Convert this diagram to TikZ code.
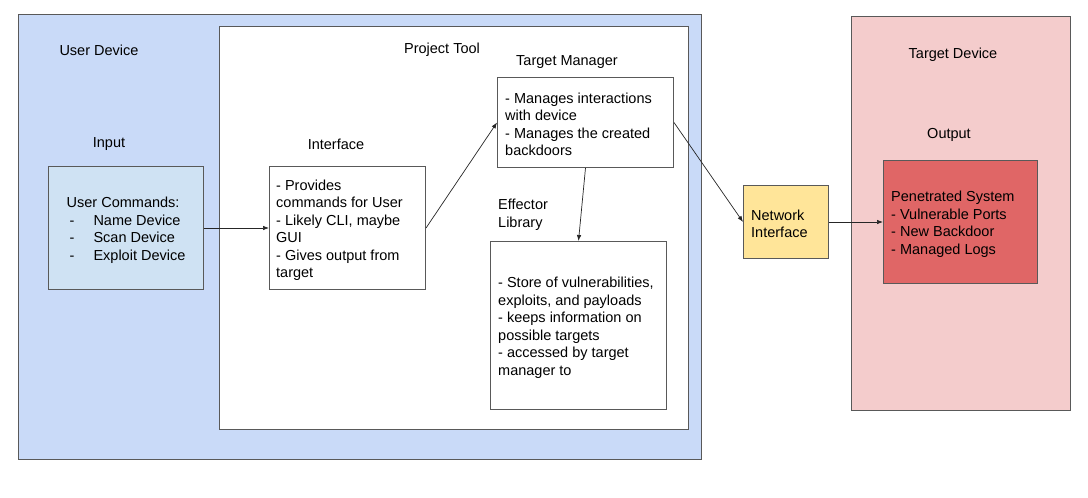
\documentclass[tikz,border=0pt]{standalone}
\usepackage{fontspec}
\setmainfont{Liberation Sans}
\usetikzlibrary{arrows.meta}
\definecolor{userblue}{HTML}{C9DAF8}
\definecolor{inputblue}{HTML}{CFE2F3}
\definecolor{netyellow}{HTML}{FFE599}
\definecolor{targetpink}{HTML}{F4CCCC}
\definecolor{penred}{HTML}{E06666}
\definecolor{edge}{HTML}{595959}
\begin{document}
\hyphenpenalty=10000 \exhyphenpenalty=10000
\begin{tikzpicture}[x=1pt,y=-1pt,
  every node/.style={font=\fontsize{14.5}{17.5}\selectfont},
  region/.style={draw=edge,line width=1pt},
  box/.style={draw=edge,line width=1pt,anchor=north west,align=left,inner ysep=0pt,inner xsep=8pt},
  boxtext/.style={yshift=-2pt},
  lbl/.style={inner sep=0pt,yshift=-2pt},
  conn/.style={line width=0.7pt,draw=black!85,-{Latex[length=6pt,width=4.5pt]}}
]
\useasboundingbox (0,0) rectangle (1088,498);
% regions
\draw[region,fill=userblue] (18,14) rectangle (701,459);
\draw[region,fill=white] (219,26) rectangle (688,429);
\draw[region,fill=targetpink] (851,16) rectangle (1070,410);
% labels
\node[lbl] (luser) at (99,48) {User Device};
\node[lbl] (lproj) at (442,48) {Project Tool};
\node[lbl] (linput) at (109,142) {Input};
\node[lbl] (liface) at (336,142) {Interface};
\node[lbl] (ltm) at (567,60) {Target Manager};
\node[lbl,anchor=north west,align=left] (leff) at (498,197) {Effector\\Library};
\node[lbl] (ltd) at (953,53) {Target Device};
\node[lbl] (lout) at (949,133) {Output};
% boxes (frames)
\node[box,fill=inputblue,minimum width=155pt,minimum height=123pt,inner xsep=0pt] (input) at (48,166) {};
\node[box,fill=white,minimum width=156pt,minimum height=123pt] (iface) at (269,166) {};
\node[box,fill=white,minimum width=176pt,minimum height=90pt] (tm) at (497,77) {};
\node[box,fill=white,minimum width=176pt,minimum height=168pt] (eff) at (490,241) {};
\node[box,fill=netyellow,minimum width=85pt,minimum height=73pt] (net) at (743,185) {};
\node[box,fill=penred,minimum width=154pt,minimum height=123pt] (pen) at (883,160) {};
% box texts
\node[align=left,inner sep=0pt,anchor=west,boxtext] (inputt) at ([xshift=18.5pt]input.west)
 {User Commands:\\\hspace*{3pt}-\hspace*{19pt}Name Device\\\hspace*{3pt}-\hspace*{19pt}Scan Device\\\hspace*{3pt}-\hspace*{19pt}Exploit Device};
\node[align=left,inner sep=0pt,anchor=west,boxtext] (ifacet) at ([xshift=7pt]iface.west)
 {- Provides\\commands for User\\- Likely CLI, maybe\\GUI\\- Gives output from\\target};
\node[align=left,inner sep=0pt,anchor=west,boxtext] (tmt) at ([xshift=8pt]tm.west)
 {- Manages interactions\\with device\\- Manages the created\\backdoors};
\node[align=left,inner sep=0pt,anchor=west,boxtext] (efft) at ([xshift=8pt]eff.west)
 {- Store of vulnerabilities,\\exploits, and payloads\\- keeps information on\\possible targets\\- accessed by target\\manager to};
\node[align=left,inner sep=0pt,anchor=west,boxtext] (nett) at ([xshift=8pt]net.west)
 {Network\\Interface};
\node[align=left,inner sep=0pt,anchor=west,boxtext] (pent) at ([xshift=8pt]pen.west)
 {Penetrated System\\- Vulnerable Ports\\- New Backdoor\\- Managed Logs};
% connectors
\draw[conn] (input.east) -- (iface.west);
\draw[conn] (iface.east) -- (tm.west);
\draw[conn] (tm.south) -- (eff.north);
\draw[conn] (tm.east) -- (net.west);
\draw[conn] (net.east) -- (pen.west);
\end{tikzpicture}
\end{document}
